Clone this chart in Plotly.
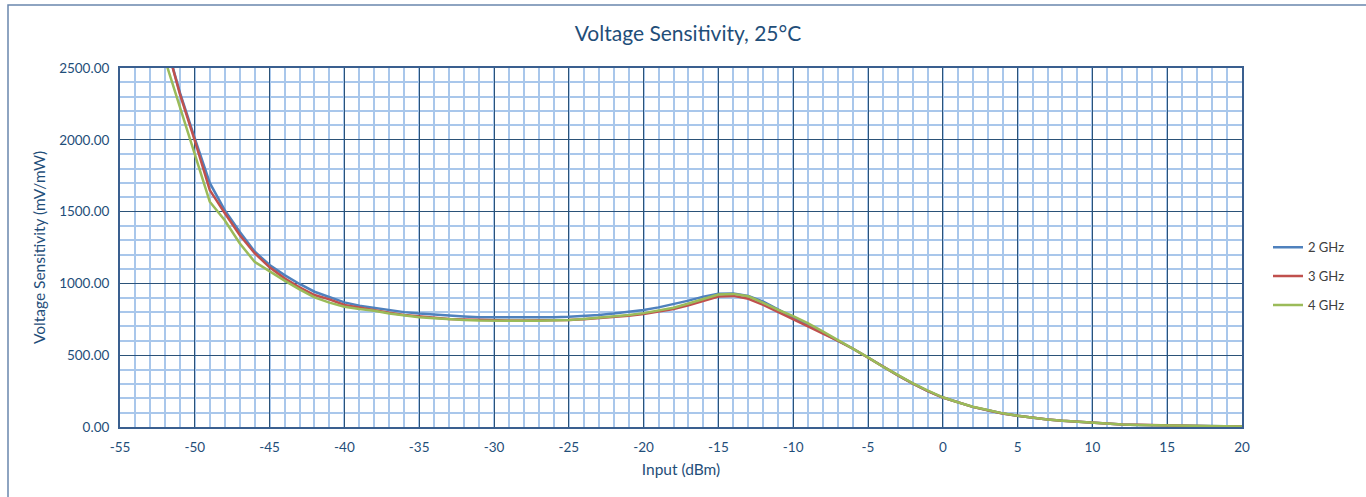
import plotly.graph_objects as go

x_dbm = list(range(-52, 21))

ghz2 = [2700, 2330, 2010, 1700, 1510, 1360, 1222, 1128, 1058, 996, 942, 907, 868, 845, 830, 810, 800, 790,
        782, 775, 770, 765, 763, 765, 765, 764, 765, 768, 773, 780, 790, 800, 815, 833, 855, 880, 908, 928,
        930, 912, 873, 818, 762, 706, 652, 600, 545, 484, 420, 360, 302, 250, 205, 170, 140, 116, 94, 78,
        64, 52, 43, 36, 26, 21, 17, 14, 12, 10, 8, 7, 6, 5, 4]
ghz3 = [2700, 2320, 1995, 1650, 1490, 1337, 1210, 1112, 1035, 973, 919, 889, 850, 830, 815, 795, 780, 770,
        760, 752, 748, 745, 743, 742, 742, 742, 742, 745, 750, 757, 766, 775, 787, 803, 822, 848, 880, 908,
        913, 893, 850, 800, 752, 700, 648, 600, 545, 483, 418, 360, 302, 250, 205, 170, 140, 116, 94, 78,
        64, 52, 43, 36, 27, 22, 18, 15, 12, 10, 8, 7, 6, 5, 4]
ghz4 = [2560, 2230, 1900, 1569, 1440, 1280, 1150, 1082, 1019, 959, 903, 866, 838, 822, 810, 790, 775, 765,
        757, 750, 745, 742, 740, 740, 740, 740, 742, 745, 752, 760, 770, 780, 793, 810, 830, 860, 893, 922,
        927, 910, 865, 815, 772, 722, 664, 606, 548, 485, 420, 362, 304, 253, 207, 172, 141, 118, 95, 79,
        65, 53, 44, 37, 26, 21, 17, 14, 12, 10, 8, 7, 6, 5, 4]

series_names = ["2 GHz", "3 GHz", "4 GHz"]
series_colors = ["#4F81BD", "#C0504D", "#9BBB59"]

x_tick_vals = list(range(-55, 21, 5))
x_tick_text = ["-55", "-50", "-45", "-40", "-35", "-30", "-25", "-20", "-15", "-10", "-5",
               "0", "5", "10", "15", "20"]

txt = "#1F4E79"
font_family = "Lato"

fig = go.Figure()
for name, ys, col in zip(series_names, [ghz2, ghz3, ghz4], series_colors):
    fig.add_trace(go.Scatter(x=x_dbm, y=ys, mode="lines", name=name, legendgroup=name,
                             line=dict(color=col, width=2.5)))

fig.update_layout(
    width=1366, height=497,
    margin=dict(l=120, r=124, t=68, b=70),
    paper_bgcolor="white", plot_bgcolor="white",
    font=dict(family=font_family, color=txt, size=13),
    title=dict(text="Voltage Sensitivity, 25°C", x=688/1366, xanchor="center",
               y=1 - 34/497, yanchor="middle", font=dict(size=21, color=txt)),
    legend=dict(x=(1268-120)/1122, xanchor="left", y=0.42, yanchor="middle",
                font=dict(size=13, color="#404040"), traceorder="grouped", tracegroupgap=9,
                bgcolor="rgba(0,0,0,0)"),
    showlegend=True,
)
fig.update_xaxes(
    range=[-55, 20], tickvals=x_tick_vals, ticktext=x_tick_text, showgrid=True,
    gridcolor="#2B5278", gridwidth=1,
    minor=dict(dtick=1, tick0=-55, showgrid=True, gridcolor="#A9C7EB", gridwidth=2),
    showline=True, linecolor="#3A5F8F", linewidth=2, mirror=True, zeroline=False,
    ticks="outside", ticklen=7, tickcolor="rgba(0,0,0,0)", tickfont=dict(size=13.5, color=txt),
    title=dict(text="Input (dBm)", font=dict(size=15.5, color=txt), standoff=10),
)
fig.update_yaxes(
    range=[0, 2500], dtick=500, tickformat=".2f", showgrid=True, gridcolor="#2B5278", gridwidth=1,
    minor=dict(dtick=100, showgrid=True, gridcolor="#A9C7EB", gridwidth=2),
    showline=True, linecolor="#3A5F8F", linewidth=2, mirror=True, zeroline=False,
    ticks="outside", ticklen=6, tickcolor="rgba(0,0,0,0)", tickfont=dict(size=13.5, color=txt),
    title=dict(text="Voltage Sensitivity (mV/mW)", font=dict(size=15.5, color=txt), standoff=10),
)
# outer chart border (top and left visible)
fig.add_shape(type="rect", xref="paper", yref="paper",
              x0=(8-120)/1122, x1=(1380-120)/1122, y0=(427-510)/359, y1=(427-5)/359,
              line=dict(color="#6A86AD", width=1.5), fillcolor="rgba(0,0,0,0)", layer="below")

fig.write_html("out.html")
